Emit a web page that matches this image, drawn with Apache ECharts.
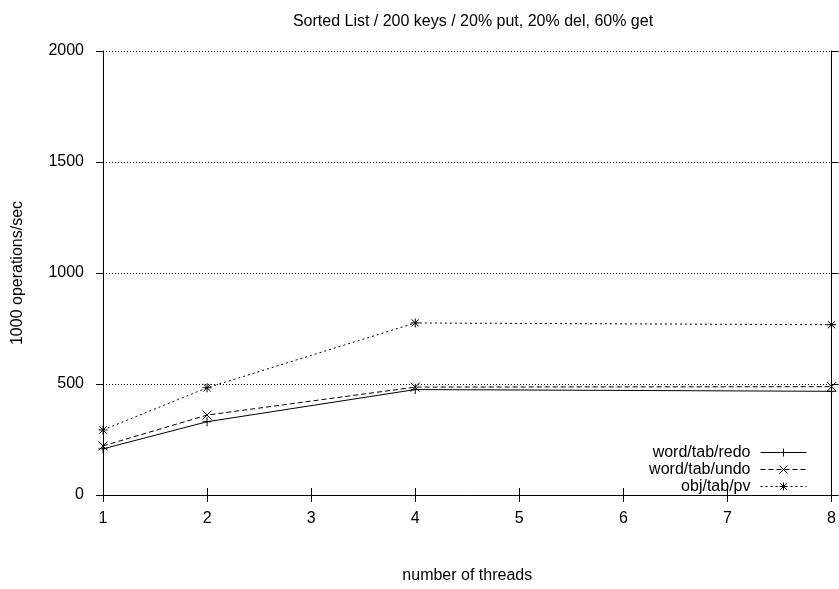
<!DOCTYPE html>
<html>
<head>
<meta charset="utf-8">
<title>Sorted List throughput</title>
<script src="https://cdn.jsdelivr.net/npm/echarts@6/dist/echarts.min.js"></script>
<style>
  html, body { margin: 0; padding: 0; background: #fff; }
  #chart { width: 839px; height: 589px; }
</style>
</head>
<body>
<div id="chart"></div>
<script>
// Thread counts on the x axis
const threads = [1, 2, 4, 8];
// Throughput in 1000 operations/sec for each configuration
const redoValues = [208, 330, 475, 467];
const undoValues = [221, 360, 486, 488];
const pvValues = [293, 483, 775, 767];
const seriesNames = ['word/tab/redo', 'word/tab/undo', 'obj/tab/pv'];
const yTicks = [0, 500, 1000, 1500, 2000];

const FONT = 'Liberation Sans, Arial, sans-serif';

// Marker shapes drawn as stroked paths: plus, cross, asterisk
const PLUS = 'path://M0,5L10,5M5,0L5,10';
const CROSS = 'path://M0,0L10,10M10,0L0,10';
const STAR = 'path://M0,5L10,5M5,0L5,10M1,1L9,9M9,1L1,9';

function pairs(values) {
  return threads.map((t, i) => [t, values[i]]);
}

function makeSeries(name, values, symbol, dash) {
  return {
    name: name,
    type: 'line',
    data: pairs(values),
    symbol: symbol,
    symbolSize: 9,
    showAllSymbol: true,
    lineStyle: { color: '#000', width: 1, type: dash },
    itemStyle: { color: 'rgba(0,0,0,0)', borderColor: '#000', borderWidth: 1 },
    emphasis: { disabled: true },
    animation: false
  };
}

const chart = echarts.init(document.getElementById('chart'), null, { renderer: 'canvas' });

const tickStyle = { show: true, inside: false, length: 7, lineStyle: { color: '#000', width: 1 } };
const lineStyle = { show: true, lineStyle: { color: '#000', width: 1 } };

chart.setOption({
  backgroundColor: '#fff',
  animation: false,
  title: {
    text: 'Sorted List / 200 keys / 20% put, 20% del, 60% get',
    left: 468,
    textAlign: 'center',
    top: 9,
    textStyle: { fontFamily: FONT, fontSize: 16, fontWeight: 'normal', color: '#000' }
  },
  grid: { left: 103, right: 6, top: 51, bottom: 92, containLabel: false },
  legend: {
    data: seriesNames,
    orient: 'vertical',
    align: 'right',
    right: 27,
    top: 439.5,
    itemWidth: 46,
    itemHeight: 10,
    itemGap: 1,
    selectedMode: false,
    itemStyle: { color: 'rgba(0,0,0,0)', borderColor: '#000', borderWidth: 1, opacity: 1 },
    lineStyle: { color: '#000', width: 1, opacity: 1 },
    textStyle: { fontFamily: FONT, fontSize: 16, color: '#000', lineHeight: 16, padding: [0, 5, 0, 0] }
  },
  xAxis: [
    {
      type: 'value', min: 1, max: 8, interval: 1, position: 'bottom',
      name: 'number of threads', nameLocation: 'middle', nameGap: 73,
      nameTextStyle: { fontFamily: FONT, fontSize: 16, color: '#000' },
      axisLine: lineStyle, axisTick: tickStyle,
      axisLabel: { fontFamily: FONT, fontSize: 16, color: '#000', margin: 16 },
      splitLine: { show: false }
    },
    {
      type: 'value', min: 1, max: 8, interval: 1, position: 'top',
      axisLine: lineStyle, axisTick: tickStyle,
      axisLabel: { show: false }, splitLine: { show: false }
    }
  ],
  yAxis: [
    {
      type: 'value', min: yTicks[0], max: yTicks[yTicks.length - 1], interval: 500, position: 'left',
      name: '1000 operations/sec', nameLocation: 'middle', nameGap: 77, nameRotate: 90,
      nameTextStyle: { fontFamily: FONT, fontSize: 16, color: '#000' },
      axisLine: lineStyle, axisTick: tickStyle,
      axisLabel: { fontFamily: FONT, fontSize: 16, color: '#000', margin: 19, formatter: v => String(v) },
      splitLine: { show: true, lineStyle: { color: '#000', width: 1, type: [1, 2] } }
    },
    {
      type: 'value', min: yTicks[0], max: yTicks[yTicks.length - 1], interval: 500, position: 'right',
      axisLine: lineStyle, axisTick: tickStyle,
      axisLabel: { show: false }, splitLine: { show: false }
    }
  ],
  series: [
    makeSeries(seriesNames[0], redoValues, PLUS, 'solid'),
    makeSeries(seriesNames[1], undoValues, CROSS, [5, 3]),
    makeSeries(seriesNames[2], pvValues, STAR, [2, 3])
  ]
});
</script>
</body>
</html>
